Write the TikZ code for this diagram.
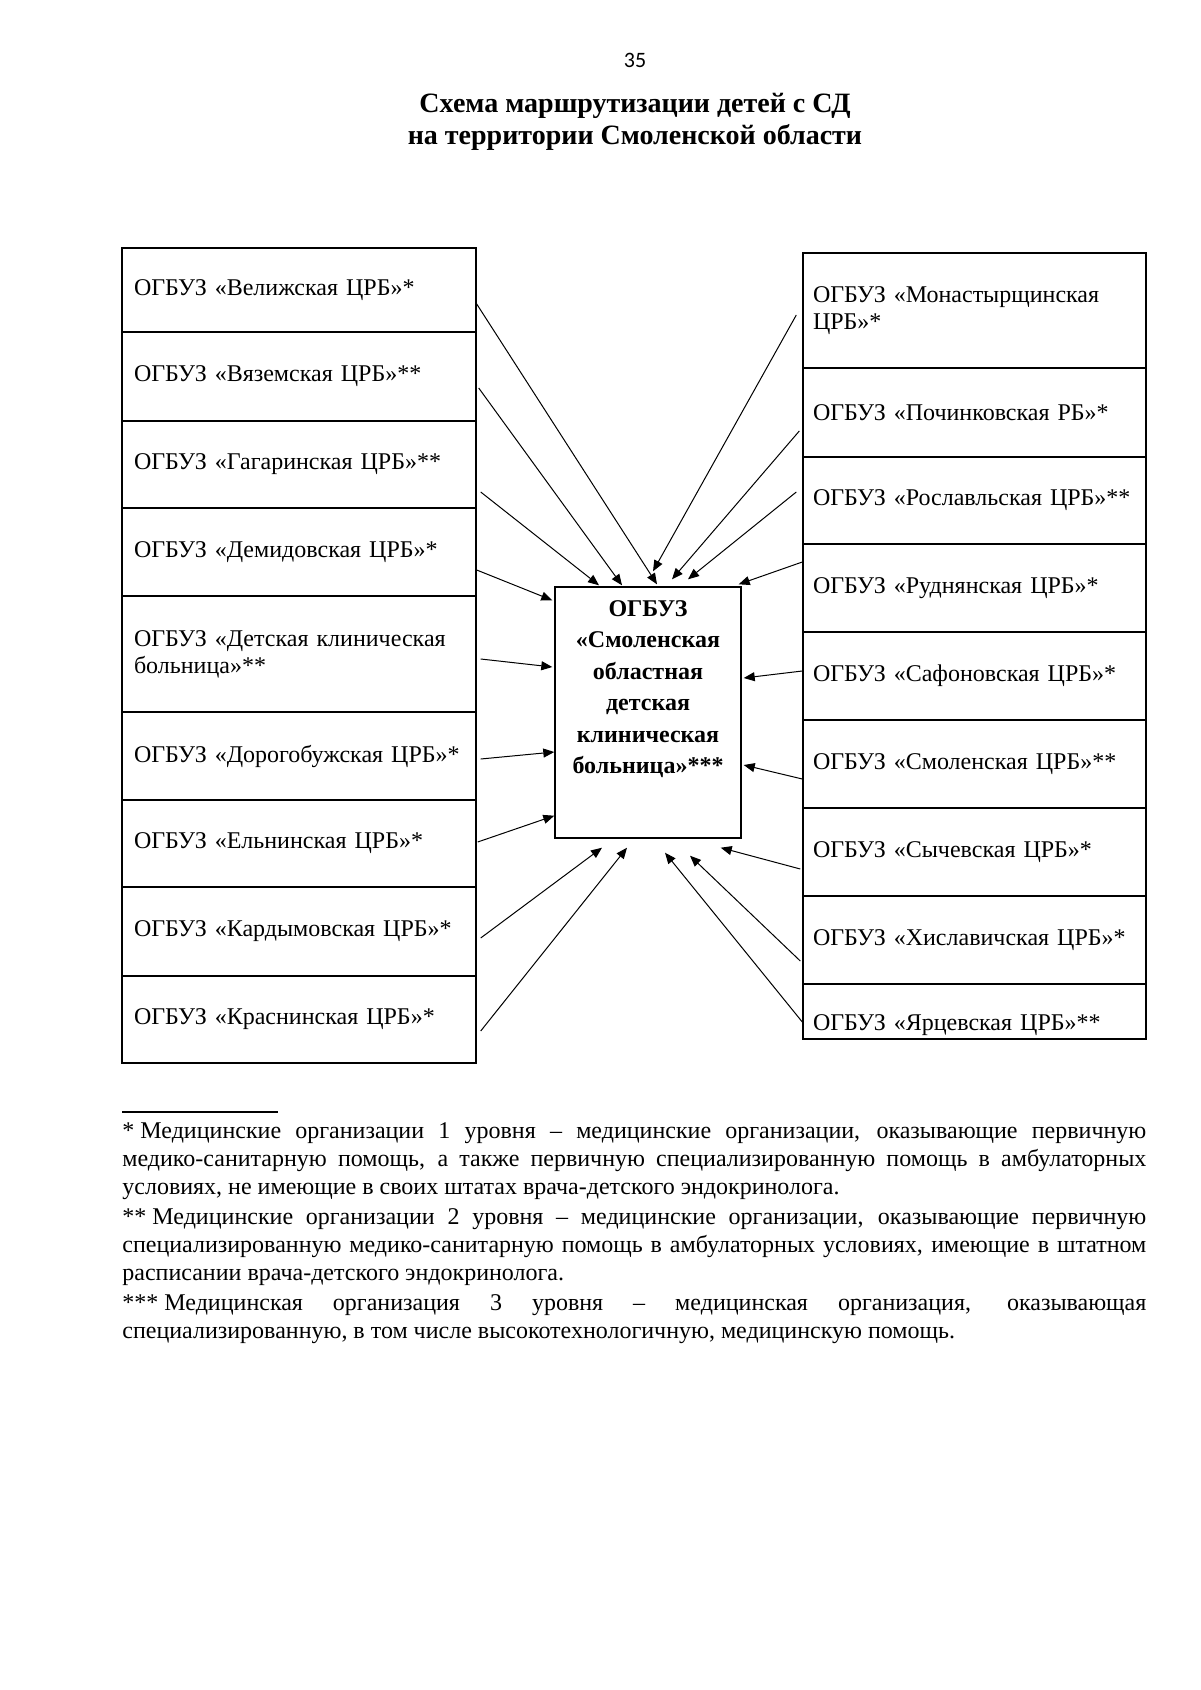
\documentclass[tikz,border=0pt]{standalone}
\usepackage{fontspec}
\setmainfont{Liberation Serif}
\newfontfamily\numfont{Carlito}
\usetikzlibrary{arrows.meta}

\begin{document}
\begin{tikzpicture}[
    x=0.5pt, y=-0.5pt,
    every node/.style={font=\fontsize{12}{13.5}\selectfont},
    district/.style={draw, line width=0.7pt, rectangle, inner ysep=0pt, align=left},
    left district/.style={district, text width=165pt, inner xsep=6pt},
    right district/.style={district, text width=161.5pt, inner xsep=5pt},
    route/.style={-{Triangle[length=5.5pt,width=4.5pt]}, line width=0.5pt}
  ]

  \path [fill=white, use as bounding box] (0,0) rectangle (1200,1690);

  \node [font=\numfont\fontsize{11}{12}\selectfont] (PageNo) at (635,60) {35};
  \node [font=\fontsize{14}{16}\selectfont\bfseries, align=center] (Title) at (635,122)
    {Схема маршрутизации детей с СД\\на территории Смоленской области};

  % left column
  \node [left district, minimum height=42pt] (Velizh) at (299,290) {ОГБУЗ «Велижская ЦРБ»*};
  \node [left district, minimum height=44.5pt] (Vyazma) at (299,376.5) {ОГБУЗ «Вяземская ЦРБ»**};
  \node [left district, minimum height=43.5pt] (Gagarin) at (299,464.5) {ОГБУЗ «Гагаринская ЦРБ»**};
  \node [left district, minimum height=44pt] (Demidov) at (299,552) {ОГБУЗ «Демидовская ЦРБ»*};
  \node [left district, minimum height=58pt] (Childrens) at (299,654) {ОГБУЗ «Детская клиническая\\больница»**};
  \node [left district, minimum height=44pt] (Dorogobuzh) at (299,756) {ОГБУЗ «Дорогобужская ЦРБ»*};
  \node [left district, minimum height=43.5pt] (Yelnya) at (299,843.5) {ОГБУЗ «Ельнинская ЦРБ»*};
  \node [left district, minimum height=44.5pt] (Kardymovo) at (299,931.5) {ОГБУЗ «Кардымовская ЦРБ»*};
  \node [left district, minimum height=43.5pt] (Krasny) at (299,1019.5) {ОГБУЗ «Краснинская ЦРБ»*};

  % right column
  \node [right district, minimum height=57.5pt] (Monastyrshchina) at (974.5,310.5) {ОГБУЗ «Монастырщинская\\ЦРБ»*};
  \node [right district, minimum height=44.5pt] (Pochinok) at (974.5,412.5) {ОГБУЗ «Починковская РБ»*};
  \node [right district, minimum height=43.5pt] (Roslavl) at (974.5,500.5) {ОГБУЗ «Рославльская ЦРБ»**};
  \node [right district, minimum height=44pt] (Rudnya) at (974.5,588) {ОГБУЗ «Руднянская ЦРБ»*};
  \node [right district, minimum height=44pt] (Safonovo) at (974.5,676) {ОГБУЗ «Сафоновская ЦРБ»*};
  \node [right district, minimum height=44pt] (Smolensk) at (974.5,764) {ОГБУЗ «Смоленская ЦРБ»**};
  \node [right district, minimum height=44pt] (Sychevka) at (974.5,852) {ОГБУЗ «Сычевская ЦРБ»*};
  \node [right district, minimum height=44pt] (Khislavichi) at (974.5,940) {ОГБУЗ «Хиславичская ЦРБ»*};
  \node [right district, minimum height=27.5pt] (Yartsevo) at (974.5,1011.5)
    {\raisebox{-6.75pt}[\height][\depth]{ОГБУЗ «Ярцевская ЦРБ»**}};

  % regional hospital
  \node [draw, line width=0.7pt, minimum width=93pt, minimum height=125.5pt, inner sep=0pt,
         font=\fontsize{12}{15.75}\selectfont\bfseries] (Regional) at (648,712.5)
    {\raisebox{12pt}[\height][\depth]{\begin{tabular}{@{}c@{}}ОГБУЗ\\«Смоленская\\областная\\детская\\клиническая\\больница»***\end{tabular}}};

  \begin{scope}[every path/.style={route}]
    \draw ([yshift=-7pt]Velizh.east) -- ([xshift=4.5pt,yshift=1pt]Regional.north);
    \draw ([xshift=1pt,yshift=-5.75pt]Vyazma.east) -- ([xshift=-13pt,yshift=0.5pt]Regional.north);
    \draw ([xshift=2pt,yshift=-13.75pt]Gagarin.east) -- ([xshift=-24.5pt,yshift=0.5pt]Regional.north);
    \draw ([yshift=-9pt]Demidov.east) -- ([xshift=-1pt,yshift=-7pt]Regional.north west);
    \draw ([xshift=2pt,yshift=-2.5pt]Childrens.east) -- ([xshift=-1pt,yshift=22.75pt]Regional.west);
    \draw ([xshift=2pt,yshift=-1.5pt]Dorogobuzh.east) -- ([yshift=-19.75pt]Regional.west);
    \draw ([xshift=0.5pt,yshift=0.75pt]Yelnya.east) -- ([yshift=11.5pt]Regional.south west);
    \draw ([xshift=2pt,yshift=-3.25pt]Kardymovo.east) -- ([xshift=-23pt,yshift=-4.5pt]Regional.south);
    \draw ([xshift=2pt,yshift=-5.75pt]Krasny.east) -- ([xshift=-10.5pt,yshift=-4.5pt]Regional.south);

    \draw ([xshift=-3pt,yshift=-2.25pt]Monastyrshchina.west) -- ([xshift=2.5pt,yshift=7.5pt]Regional.north);
    \draw ([xshift=-1.5pt,yshift=-9.25pt]Pochinok.west) -- ([xshift=12pt,yshift=3.5pt]Regional.north);
    \draw ([xshift=-3pt,yshift=4.25pt]Roslavl.west) -- ([xshift=20pt,yshift=3.5pt]Regional.north);
    \draw ([yshift=13pt]Rudnya.west) -- ([xshift=-1.5pt,yshift=1pt]Regional.north east);
    \draw ([yshift=2.5pt]Safonovo.west) -- ([xshift=1pt,yshift=17.25pt]Regional.east);
    \draw ([yshift=-7.5pt]Smolensk.west) -- ([xshift=1pt,yshift=-26.25pt]Regional.east);
    \draw ([xshift=-1pt,yshift=-8.5pt]Sychevka.west) -- ([xshift=-10.5pt,yshift=-4.5pt]Regional.south east);
    \draw ([xshift=-1pt,yshift=-10.5pt]Khislavichi.west) -- ([xshift=21pt,yshift=-8.5pt]Regional.south);
    \draw ([yshift=-5.25pt]Yartsevo.west) -- ([xshift=8.5pt,yshift=-7pt]Regional.south);
  \end{scope}

  % footnotes
  \draw [line width=0.6pt] (122,1112) -- (278,1112);
  \node [anchor=north west, inner sep=0pt, text width=512pt, align=justify,
         font=\fontsize{12}{14}\selectfont] (Notes) at (122,1122)
    {\setlength{\parskip}{1pt}\hyphenpenalty=10000 \tolerance=9999
     \mbox{* Медицинские} организации 1 уровня – медицинские организации, оказывающие первичную\linebreak
     медико-санитарную помощь, а также первичную специализированную помощь в амбулаторных\linebreak
     условиях, не имеющие в своих штатах врача-детского эндокринолога.\par
     \mbox{** Медицинские} организации 2 уровня – медицинские организации, оказывающие первичную\linebreak
     специализированную медико-санитарную помощь в амбулаторных условиях, имеющие в штатном\linebreak
     расписании врача-детского эндокринолога.\par
     \mbox{*** Медицинская} организация 3 уровня – медицинская организация, оказывающая\linebreak
     специализированную, в том числе высокотехнологичную, медицинскую помощь.};

\end{tikzpicture}
\end{document}
